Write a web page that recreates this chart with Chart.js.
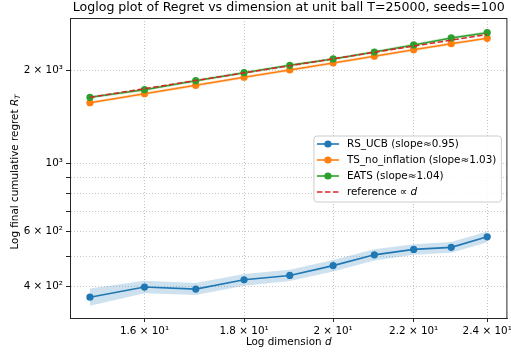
<!DOCTYPE html>
<html><head><meta charset="utf-8">
<script src="https://cdn.jsdelivr.net/npm/chart.js@4.4.0/dist/chart.umd.min.js"></script>
<style>html,body{margin:0;padding:0;background:#fff}#wrap{width:511px;height:358px;position:relative}</style>
</head><body><div id="wrap"><canvas id="c" width="511" height="358"></canvas></div>
<script>
const dims = [15,16,17,18,19,20,21,22,23,24];
const rsUcb     = [368,397,391,419,433,466,505,526,534,578];
const rsUcbLow  = [345,379,374,401,415,446,484,505,513,555];
const rsUcbHigh = [393,416,409,438,452,486,527,547,556,601];
const tsNoInfl     = [1574,1684,1793,1904,2011,2118,2227,2340,2447,2548];
const tsNoInflLow  = [1556,1664,1772,1882,1987,2093,2201,2312,2418,2518];
const tsNoInflHigh = [1592,1704,1814,1926,2035,2143,2253,2368,2476,2578];
const eats     = [1639,1735,1856,1970,2082,2183,2300,2424,2554,2657];
const eatsLow  = [1620,1715,1834,1947,2057,2157,2273,2395,2524,2626];
const eatsHigh = [1658,1755,1878,1993,2107,2209,2327,2453,2584,2688];
const reference = [1639,1748,1858,1967,2076,2185,2295,2404,2513,2622];

const xTickValues = [16,18,20,22,24];
const xTickLabels = ['1.6 × 10¹','1.8 × 10¹','2 × 10¹','2.2 × 10¹','2.4 × 10¹'];
const yTickValues = [400,500,600,700,800,900,1000,2000];
const yTickLabels = ['4 × 10²','','6 × 10²','','','','10³','2 × 10³'];

const seriesNames = ['RS_UCB (slope≈0.95)','TS_no_inflation (slope≈1.03)','EATS (slope≈1.04)'];
const titleText = 'Loglog plot of Regret vs dimension at unit ball T=25000, seeds=100';

const C_BLUE='#1f77b4', C_ORANGE='#ff7f0e', C_GREEN='#2ca02c', C_RED='#d62728';
const FONT='"DejaVu Sans", sans-serif';
const FS = 10.4;

const pts = arr => dims.map((d,i)=>({x:d,y:arr[i]}));

function mainDs(label, arr, color, order){
  return {label, data:pts(arr), borderColor:color, backgroundColor:color, borderWidth:1.6,
    pointRadius:3.6, pointHoverRadius:3.6, pointBackgroundColor:color, pointBorderWidth:0,
    fill:false, tension:0, order};
}
function bandDs(arr, order){
  return {label:'_band', data:pts(arr), borderWidth:0, pointRadius:0, borderColor:'rgba(0,0,0,0)', fill:false, order};
}
function bandHigh(arr, targetIdx, rgba, order){
  return {label:'_band', data:pts(arr), borderWidth:0, pointRadius:0, borderColor:'rgba(0,0,0,0)',
    backgroundColor:rgba, fill:{target:targetIdx}, order};
}

const datasets = [
  bandDs(rsUcbLow, 20),
  bandHigh(rsUcbHigh, 0, 'rgba(31,119,180,0.22)', 20),
  bandDs(tsNoInflLow, 20),
  bandHigh(tsNoInflHigh, 2, 'rgba(255,127,14,0.2)', 20),
  bandDs(eatsLow, 20),
  bandHigh(eatsHigh, 4, 'rgba(44,160,44,0.2)', 20),
  mainDs(seriesNames[0], rsUcb, C_BLUE, 4),
  mainDs(seriesNames[1], tsNoInfl, C_ORANGE, 3),
  mainDs(seriesNames[2], eats, C_GREEN, 2),
  {label:'reference', data:pts(reference), borderColor:C_RED, borderWidth:1.6, borderDash:[5.5,2.5],
   pointRadius:0, fill:false, order:1}
];

const decor = {
  id:'decor',
  afterDraw(chart){
    const {ctx, chartArea:a} = chart;
    ctx.save();
    ctx.strokeStyle='#262626'; ctx.lineWidth=1;
    ctx.strokeRect(a.left+0.5, a.top+0.5, a.right-a.left-1, a.bottom-a.top);
    ctx.fillStyle='#000';
    ctx.font='12.6px '+FONT; ctx.textAlign='center'; ctx.textBaseline='middle';
    ctx.fillText(titleText, (a.left+a.right)/2, 8);
    const fN=FS+'px '+FONT, fI='italic '+FS+'px '+FONT;
    function pieces(list, cx, cy){
      let total=0;
      list.forEach(p=>{ctx.font=p.f; p.w=ctx.measureText(p.t).width; total+=p.w;});
      let x=cx-total/2;
      ctx.textAlign='left';
      list.forEach(p=>{ctx.font=p.f; ctx.fillText(p.t, x, cy+(p.dy||0)); x+=p.w;});
    }
    ctx.textBaseline='middle';
    pieces([{t:'Log dimension ',f:fN},{t:'d',f:fI}], (a.left+a.right)/2, 342);
    ctx.save();
    ctx.translate(15, (a.top+a.bottom)/2+4);
    ctx.rotate(-Math.PI/2);
    pieces([{t:'Log final cumulative regret ',f:fN},{t:'R',f:fI},{t:'T',f:'italic 7.3px '+FONT,dy:3}], 0, 0);
    ctx.restore();
    const rows = [
      {name:seriesNames[0], color:C_BLUE, marker:true},
      {name:seriesNames[1], color:C_ORANGE, marker:true},
      {name:seriesNames[2], color:C_GREEN, marker:true},
      {name:null, color:C_RED, marker:false}
    ];
    ctx.font=fN;
    let maxW=0;
    rows.forEach(r=>{ const w = r.name ? ctx.measureText(r.name).width : ctx.measureText('reference ∝ d').width; maxW=Math.max(maxW,w);});
    const lw = 33 + maxW + 5, lh = 66;
    const lx = a.right - 6 - lw, ly = (a.top+a.bottom)/2 - lh/2 + 1;
    ctx.beginPath();
    const r=3;
    ctx.moveTo(lx+r,ly); ctx.lineTo(lx+lw-r,ly); ctx.quadraticCurveTo(lx+lw,ly,lx+lw,ly+r);
    ctx.lineTo(lx+lw,ly+lh-r); ctx.quadraticCurveTo(lx+lw,ly+lh,lx+lw-r,ly+lh);
    ctx.lineTo(lx+r,ly+lh); ctx.quadraticCurveTo(lx,ly+lh,lx,ly+lh-r);
    ctx.lineTo(lx,ly+r); ctx.quadraticCurveTo(lx,ly,lx+r,ly); ctx.closePath();
    ctx.fillStyle='rgba(255,255,255,0.85)'; ctx.fill();
    ctx.strokeStyle='#cccccc'; ctx.lineWidth=1; ctx.stroke();
    rows.forEach((row,i)=>{
      const cy = ly + 8 + i*16;
      ctx.strokeStyle=row.color; ctx.lineWidth=1.6;
      ctx.setLineDash(row.marker?[]:[5.5,2.5]);
      ctx.beginPath(); ctx.moveTo(lx+3, cy); ctx.lineTo(lx+25, cy); ctx.stroke();
      ctx.setLineDash([]);
      if(row.marker){ ctx.fillStyle=row.color; ctx.beginPath(); ctx.arc(lx+14, cy, 3.6, 0, Math.PI*2); ctx.fill(); }
      ctx.fillStyle='#000'; ctx.textBaseline='middle';
      if(row.name){ ctx.font=fN; ctx.textAlign='left'; ctx.fillText(row.name, lx+33, cy); }
      else {
        ctx.font=fN; ctx.textAlign='left';
        const t1='reference ∝ '; ctx.fillText(t1, lx+33, cy);
        const w1=ctx.measureText(t1).width; ctx.font=fI; ctx.fillText('d', lx+33+w1, cy);
      }
    });
    ctx.restore();
  }
};

const gridCommon = {color:'rgba(176,176,176,0.9)', lineWidth:0.8, tickColor:'#262626', tickLength:4, tickWidth:1, tickBorderDash:[]};

new Chart(document.getElementById('c'), {
  type:'line',
  data:{datasets},
  options:{
    responsive:false, animation:false, devicePixelRatio:1,
    layout:{padding:{left:0,top:18,right:1,bottom:0}},
    plugins:{legend:{display:false}, title:{display:false}, tooltip:{enabled:false}},
    elements:{line:{tension:0}},
    scales:{
      x:{type:'logarithmic', min:14.65, max:24.58,
        afterBuildTicks:s=>{s.ticks = xTickValues.map(v=>({value:v}));},
        afterFit:s=>{s.height=40; s.paddingLeft=0; s.paddingRight=0;},
        ticks:{autoSkip:false, maxRotation:0, minRotation:0, padding:3, color:'#000', font:{family:'DejaVu Sans', size:FS},
          callback:(v,i)=>xTickLabels[i]},
        grid:gridCommon,
        border:{display:true, color:'#262626', width:1, dash:[1,2]}
      },
      y:{type:'logarithmic', min:315, max:2965,
        afterBuildTicks:s=>{s.ticks = yTickValues.map(v=>({value:v}));},
        afterFit:s=>{s.width=70; s.paddingTop=0; s.paddingBottom=0;},
        ticks:{autoSkip:false, padding:3, color:'#000', font:{family:'DejaVu Sans', size:FS},
          callback:(v,i)=>yTickLabels[i]},
        grid:gridCommon,
        border:{display:true, color:'#262626', width:1, dash:[1,2]}
      }
    }
  },
  plugins:[decor]
});
</script></body></html>
